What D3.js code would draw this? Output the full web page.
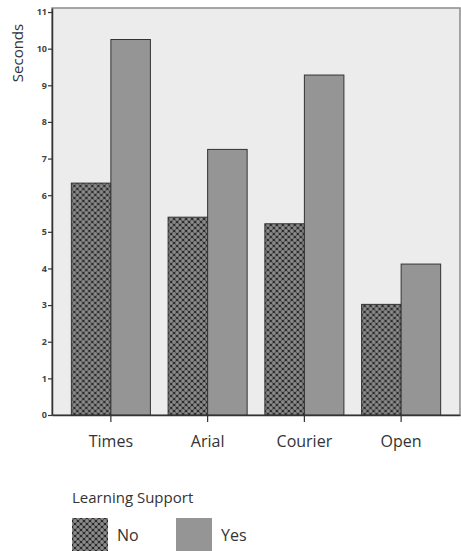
<!DOCTYPE html>
<html>
<head>
<meta charset="utf-8">
<script src="https://cdn.jsdelivr.net/npm/d3@7"></script>
<style>
  body { margin: 0; background: #fff; }
  text { font-family: "Open Sans", sans-serif; }
</style>
</head>
<body>
<div id="chart"></div>
<script>
// fonts on x axis, two series for learning support
var fonts = ['Times', 'Arial', 'Courier', 'Open'];
var seriesNames = ['No', 'Yes'];
var noValues = [6.33, 5.40, 5.22, 3.02];
var yesValues = [10.25, 7.25, 9.28, 4.12];
var yTicks = [0, 1, 2, 3, 4, 5, 6, 7, 8, 9, 10, 11];

var w = 461, h = 551;
var plotLeft = 52, plotRight = 460, plotTop = 8, plotBottom = 415;

var svg = d3.select('#chart').append('svg')
    .attr('width', w)
    .attr('height', h);

// crosshatch pattern for "No"
var defs = svg.append('defs');
var pat = defs.append('pattern')
    .attr('id', 'hatch')
    .attr('patternUnits', 'userSpaceOnUse')
    .attr('width', 6)
    .attr('height', 6);
pat.append('rect').attr('width', 6).attr('height', 6).attr('fill', '#2a2a2a');
[[0, 0], [6, 0], [0, 6], [6, 6], [3, 3]].forEach(function (p) {
    pat.append('circle')
        .attr('cx', p[0]).attr('cy', p[1]).attr('r', 1.9)
        .attr('fill', '#8c8c8c');
});

var fills = {No: 'url(#hatch)', Yes: '#959595'};

var xscale = d3.scaleBand()
    .domain(fonts)
    .range([plotLeft, plotRight])
    .paddingInner(0.183)
    .paddingOuter(0.2);

var xsub = d3.scaleBand()
    .domain(seriesNames)
    .range([0, xscale.bandwidth()]);

var yscale = d3.scaleLinear()
    .domain([0, 11.11])
    .range([plotBottom, plotTop]);

// plot background
svg.append('rect')
    .attr('x', plotLeft)
    .attr('y', plotTop)
    .attr('width', plotRight - plotLeft)
    .attr('height', plotBottom - plotTop)
    .attr('fill', '#ececec')
    .attr('stroke', '#8a8a8a')
    .attr('stroke-width', 1.5);

var rows = fonts.map(function (f, i) {
    return {font: f, No: noValues[i], Yes: yesValues[i]};
});

var groups = svg.append('g').selectAll('g')
    .data(rows)
    .enter()
    .append('g')
    .attr('transform', function (d) { return 'translate(' + xscale(d.font) + ',0)'; });

groups.selectAll('rect')
    .data(function (d) {
        return seriesNames.map(function (s) { return {key: s, value: d[s]}; });
    })
    .enter()
    .append('rect')
    .attr('x', function (d) { return xsub(d.key); })
    .attr('y', function (d) { return yscale(d.value); })
    .attr('width', xsub.bandwidth())
    .attr('height', function (d) { return plotBottom - yscale(d.value); })
    .attr('fill', function (d) { return fills[d.key]; })
    .attr('stroke', '#333')
    .attr('stroke-width', 1);

// y axis
var yAxis = d3.axisLeft(yscale)
    .tickValues(yTicks)
    .tickSize(4)
    .tickSizeOuter(0);
var yg = svg.append('g')
    .attr('transform', 'translate(' + plotLeft + ',0)')
    .call(yAxis);
yg.select('.domain').attr('stroke', '#333').attr('stroke-width', 1.5);
yg.selectAll('.tick line').attr('stroke', '#333').attr('stroke-width', 1.2);
yg.selectAll('.tick text')
    .attr('x', -5)
    .attr('fill', '#444')
    .attr('font-size', '9px')
    .attr('font-weight', 'bold');

// x axis
var xAxis = d3.axisBottom(xscale)
    .tickSize(7)
    .tickSizeOuter(0);
var xg = svg.append('g')
    .attr('transform', 'translate(0,' + plotBottom + ')')
    .call(xAxis);
xg.select('.domain').attr('stroke', '#333').attr('stroke-width', 1.5);
xg.selectAll('.tick line').attr('stroke', '#333').attr('stroke-width', 1.2);
xg.selectAll('.tick text')
    .attr('y', 21)
    .attr('fill', '#333')
    .attr('font-size', '16px');

// y title
svg.append('text')
    .attr('transform', 'translate(23,53) rotate(-90)')
    .attr('text-anchor', 'middle')
    .attr('fill', '#333')
    .attr('font-size', '15px')
    .text('Seconds');

// legend
svg.append('text')
    .attr('x', 72)
    .attr('y', 503)
    .attr('fill', '#333')
    .attr('font-size', '15px')
    .text('Learning Support');

var lg = svg.append('g').selectAll('g')
    .data(seriesNames)
    .enter()
    .append('g')
    .attr('transform', function (d, i) { return 'translate(' + (72 + i * 104) + ',518)'; });
lg.append('rect')
    .attr('width', 36)
    .attr('height', 34)
    .attr('fill', function (d) { return fills[d]; });
lg.append('text')
    .attr('x', 45)
    .attr('y', 23)
    .attr('fill', '#333')
    .attr('font-size', '16px')
    .text(function (d) { return d; });
</script>
</body>
</html>
